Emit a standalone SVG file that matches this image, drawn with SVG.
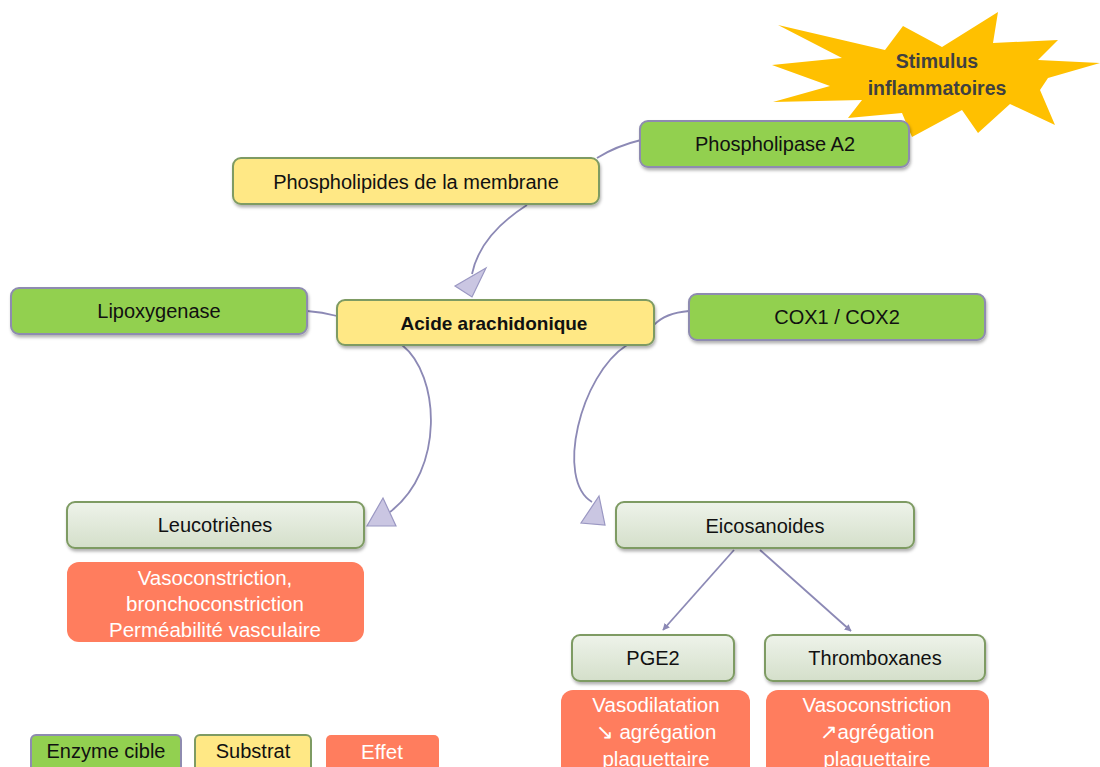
<svg xmlns="http://www.w3.org/2000/svg" width="1100" height="767" viewBox="0 0 1100 767">
<defs>
<style>
text{font-family:"Liberation Sans","Noto Sans",sans-serif;font-size:20px;text-anchor:middle;dominant-baseline:central;fill:#111}
.enz{fill:#92D050;stroke:#8E8BB0;stroke-width:2}
.sub{fill:#FFE885;stroke:#7E9B63;stroke-width:2}
.prod{fill:url(#gg);stroke:#7E9B63;stroke-width:2}
.eff{fill:#FF7D5E}
.efft{fill:#fff;font-size:20.5px}
.star{font-weight:bold;fill:#404040;font-size:19.5px}
.con{fill:none;stroke:#8C89B5;stroke-width:1.8}
.ah{fill:#CAC6E2;stroke:#9A97C2;stroke-width:1.2}
</style>
<linearGradient id="gg" x1="0" y1="0" x2="0" y2="1"><stop offset="0" stop-color="#EEF3EA"/><stop offset="1" stop-color="#D4DFCA"/></linearGradient>
<filter id="sh" x="-10%" y="-20%" width="120%" height="150%"><feDropShadow dx="1" dy="2.5" stdDeviation="1.5" flood-color="#000" flood-opacity="0.3"/></filter>
<marker id="arr" viewBox="0 0 10 10" refX="9" refY="5" markerWidth="7" markerHeight="7" orient="auto" markerUnits="userSpaceOnUse"><path d="M0,0 L10,5 L0,10 Z" fill="#8C89B5"/></marker>
</defs>
<rect width="1100" height="767" fill="#fff"/>

<g id="stimulus">
<polygon fill="#FFC000" points="778,25 885,50 903,26 942,47 998,12 993,43 1058,40 1038,60 1100,63 1048,78 1040,90 1055,125 1010,104 978,133 962,110 912,137 902,113 848,118 862,100 773,102 830,86 772,65 842,58"/>
<text class="star" x="937" y="61">Stimulus</text>
<text class="star" x="937" y="88">inflammatoires</text>
</g>

<g id="connectors">
<path class="con" d="M641,140 Q616,146 597,158"/>
<path class="con" d="M527,205 Q480,235 472,274"/>
<polygon class="ah" points="486,268 455,286 472,297"/>
<path class="con" d="M307,311 Q322,312 337,316"/>
<path class="con" d="M689,311 Q665,313 654,325"/>
<path class="con" d="M402,345 C440,375 445,470 390,512"/>
<polygon class="ah" points="383,498 367,526 396,526"/>
<path class="con" d="M627,345 C580,375 555,480 592,502"/>
<polygon class="ah" points="599,496 581,523 605,525"/>
<path class="con" d="M734,550 L663,630" marker-end="url(#arr)"/>
<path class="con" d="M760,550 L851,631" marker-end="url(#arr)"/>
</g>

<g id="phospholipase">
<rect class="enz" filter="url(#sh)" x="640" y="121" width="269" height="46" rx="8"/>
<text x="775" y="144">Phospholipase A2</text>
</g>
<g id="phospholipides">
<rect class="sub" filter="url(#sh)" x="233" y="158" width="366" height="46" rx="8"/>
<text x="416" y="182">Phospholipides de la membrane</text>
</g>
<g id="lipoxygenase">
<rect class="enz" filter="url(#sh)" x="11" y="288" width="296" height="46" rx="8"/>
<text x="159" y="311">Lipoxygenase</text>
</g>
<g id="acide">
<rect class="sub" filter="url(#sh)" x="337" y="300" width="317" height="45" rx="8"/>
<text x="494" y="323" style="font-weight:bold;font-size:19px">Acide arachidonique</text>
</g>
<g id="cox">
<rect class="enz" filter="url(#sh)" x="689" y="294" width="296" height="46" rx="8"/>
<text x="837" y="317">COX1 / COX2</text>
</g>
<g id="leucotrienes">
<rect class="prod" filter="url(#sh)" x="67" y="502" width="297" height="46" rx="8"/>
<text x="215" y="525">Leucotriènes</text>
</g>
<g id="effet-leuco">
<rect class="eff" x="67" y="562" width="297" height="80" rx="12"/>
<text class="efft" x="215" y="577">Vasoconstriction,</text>
<text class="efft" x="215" y="603">bronchoconstriction</text>
<text class="efft" x="215" y="629">Perméabilité vasculaire</text>
</g>
<g id="eicosanoides">
<rect class="prod" filter="url(#sh)" x="616" y="502" width="298" height="46" rx="8"/>
<text x="765" y="526">Eicosanoides</text>
</g>
<g id="pge2">
<rect class="prod" filter="url(#sh)" x="572" y="635" width="162" height="46" rx="8"/>
<text x="653" y="658">PGE2</text>
</g>
<g id="thromboxanes">
<rect class="prod" filter="url(#sh)" x="765" y="635" width="220" height="46" rx="8"/>
<text x="875" y="658">Thromboxanes</text>
</g>
<g id="effet-pge2">
<rect class="eff" x="561" y="690" width="189" height="95" rx="12"/>
<text class="efft" x="656" y="704">Vasodilatation</text>
<text class="efft" x="656" y="731">↘ agrégation</text>
<text class="efft" x="656" y="758">plaquettaire</text>
</g>
<g id="effet-thromb">
<rect class="eff" x="766" y="690" width="223" height="95" rx="12"/>
<text class="efft" x="877" y="704">Vasoconstriction</text>
<text class="efft" x="877" y="731">↗agrégation</text>
<text class="efft" x="877" y="758">plaquettaire</text>
</g>
<g id="legend">
<rect class="enz" x="31" y="735" width="150" height="40" rx="5"/>
<text x="106" y="751">Enzyme cible</text>
<rect class="sub" x="195" y="735" width="116" height="40" rx="5"/>
<text x="253" y="751">Substrat</text>
<rect class="eff" x="326" y="735" width="113" height="40" rx="5"/>
<text class="efft" x="382" y="751">Effet</text>
</g>
</svg>
